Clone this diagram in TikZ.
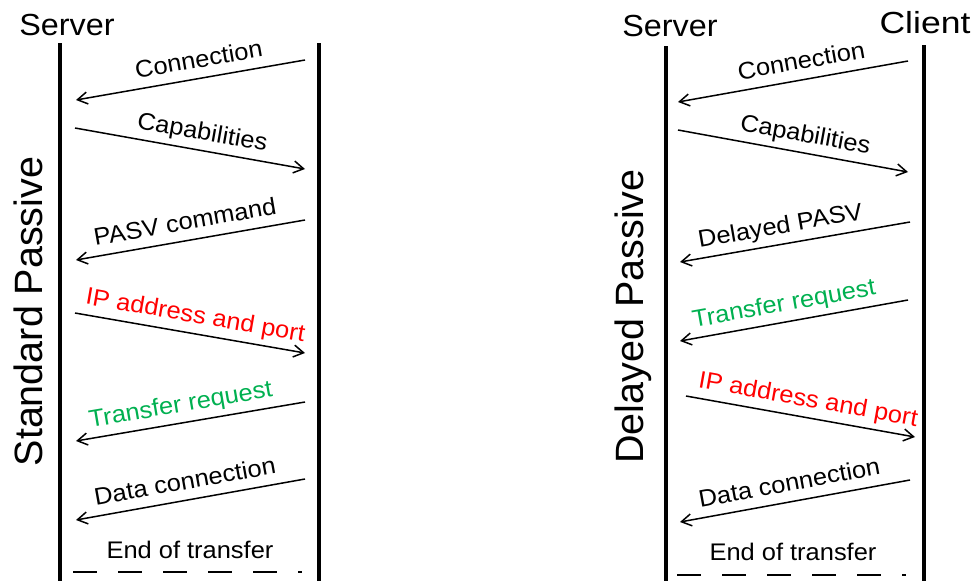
\documentclass[tikz,border=0pt]{standalone}
\usepackage{fontspec}
\setmainfont{Liberation Sans}[FakeStretch=1.06]
\newfontfamily\sidefont{Liberation Sans}
\usetikzlibrary{arrows.meta}
\definecolor{msgred}{RGB}{255,0,0}
\definecolor{msggreen}{RGB}{0,176,80}
\begin{document}
\begin{tikzpicture}[x=1pt,y=-1pt,
  lifeline/.style={line width=4pt},
  msg/.style={line width=1.5pt,-{Straight Barb[length=10pt,width=12pt]}},
  lbl/.style={sloped,above=10pt,inner sep=0pt,text depth=0pt,font=\fontsize{24}{28}\selectfont},
  role/.style={anchor=base,inner sep=0pt,font=\fontsize{30.5}{34}\selectfont},
  mode/.style={rotate=90,anchor=base,inner sep=0pt,font=\sidefont\fontsize{39.5}{44}\selectfont},
  endlbl/.style={anchor=base,inner sep=0pt,font=\fontsize{24}{28}\selectfont},
  endline/.style={line width=2.5pt,dash pattern=on 24pt off 21pt}]
\useasboundingbox (0,0) rectangle (975,581);

% ---------------- Standard passive ----------------
\node[role] (srvA) at (67,35) {Server};
\node[mode] (modeA) at (42,311.5) {Standard Passive};

\coordinate (aLtop) at (60,43);  \coordinate (aLbot) at (60,581);
\coordinate (aRtop) at (319,43); \coordinate (aRbot) at (319,581);
\draw[lifeline] (aLtop) -- (aLbot);
\draw[lifeline] (aRtop) -- (aRbot);

\coordinate (a1s) at (305,60);  \coordinate (a1e) at (76,100);
\coordinate (a2s) at (75,128);  \coordinate (a2e) at (305,169);
\coordinate (a3s) at (305,220); \coordinate (a3e) at (76,260);
\coordinate (a4s) at (75,313);  \coordinate (a4e) at (305,353);
\coordinate (a5s) at (305,402); \coordinate (a5e) at (76,441);
\coordinate (a6s) at (305,479); \coordinate (a6e) at (76,520);

\draw[msg] (a1s) -- node[lbl,pos=0.45] (a1t) {Connection} (a1e);
\draw[msg] (a2s) -- node[lbl,pos=0.54] (a2t) {Capabilities} (a2e);
\draw[msg] (a3s) -- node[lbl,pos=0.51] (a3t) {PASV command} (a3e);
\draw[msg] (a4s) -- node[lbl,pos=0.51,text=msgred] (a4t) {IP address and port} (a4e);
\draw[msg] (a5s) -- node[lbl,pos=0.53,text=msggreen] (a5t) {Transfer request} (a5e);
\draw[msg] (a6s) -- node[lbl,pos=0.51] (a6t) {Data connection} (a6e);

\node[endlbl] (endA) at (190,558) {End of transfer};
\coordinate (aDs) at (73,572); \coordinate (aDe) at (302,572);
\draw[endline] (aDs) -- (aDe);

% ---------------- Delayed passive ----------------
\node[role] (srvB) at (670,36) {Server};
\node[role] (cliB) at (925,33) {\scalebox{1.1}[1]{Client}};
\node[mode] (modeB) at (643,316.5) {Delayed Passive};

\coordinate (bLtop) at (666,46);  \coordinate (bLbot) at (666,581);
\coordinate (bRtop) at (924,45);  \coordinate (bRbot) at (924,581);
\draw[lifeline] (bLtop) -- (bLbot);
\draw[lifeline] (bRtop) -- (bRbot);

\coordinate (b1s) at (908,61);  \coordinate (b1e) at (678,102);
\coordinate (b2s) at (678,130); \coordinate (b2e) at (908,172);
\coordinate (b3s) at (910,222); \coordinate (b3e) at (680,262);
\coordinate (b4s) at (908,300); \coordinate (b4e) at (680,341);
\coordinate (b5s) at (686,396); \coordinate (b5e) at (915,437);
\coordinate (b6s) at (910,480); \coordinate (b6e) at (680,522);

\draw[msg] (b1s) -- node[lbl,pos=0.45] (b1t) {Connection} (b1e);
\draw[msg] (b2s) -- node[lbl,pos=0.54] (b2t) {Capabilities} (b2e);
\draw[msg] (b3s) -- node[lbl,pos=0.55] (b3t) {Delayed PASV} (b3e);
\draw[msg] (b4s) -- node[lbl,pos=0.53,text=msggreen] (b4t) {Transfer request} (b4e);
\draw[msg] (b5s) -- node[lbl,pos=0.52,text=msgred] (b5t) {IP address and port} (b5e);
\draw[msg] (b6s) -- node[lbl,pos=0.51] (b6t) {Data connection} (b6e);

\node[endlbl] (endB) at (793,560) {End of transfer};
\coordinate (bDs) at (677,575); \coordinate (bDe) at (906,575);
\draw[endline] (bDs) -- (bDe);
\end{tikzpicture}
\end{document}
